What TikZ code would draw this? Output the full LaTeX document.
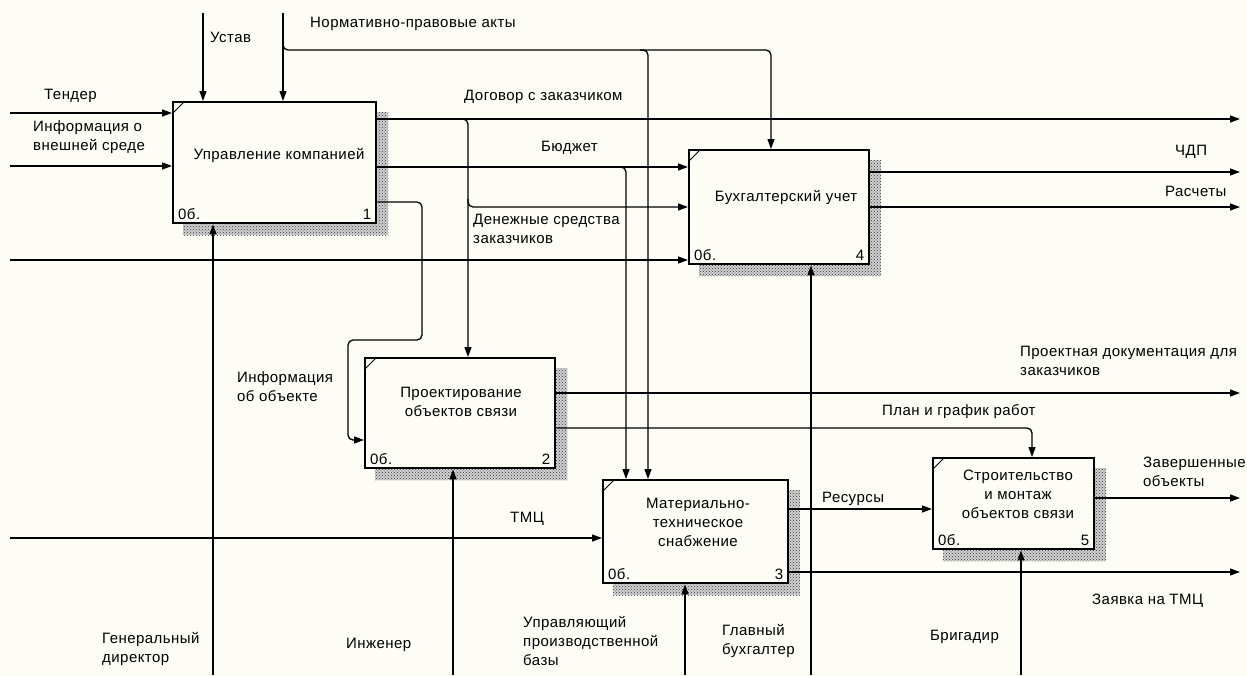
\documentclass[tikz,border=0pt]{standalone}
\usepackage{fontspec}
\setmainfont{Liberation Sans}[LetterSpace=3]
\usetikzlibrary{arrows.meta,patterns,calc}
\definecolor{bgc}{RGB}{253,252,245}
\pgfdeclarelayer{bglayer}
\pgfdeclarelayer{shadowlayer}
\pgfsetlayers{bglayer,shadowlayer,main}
\begin{document}
\begin{tikzpicture}[x=1pt,y=-1pt,
  box/.style={draw, line width=2.4pt, fill=bgc, inner sep=0pt, anchor=north west},
  txt/.style={font=\fontsize{15}{19}\selectfont, inner sep=0pt, align=center},
  lbl/.style={font=\fontsize{15}{19}\selectfont, inner sep=0pt, anchor=west, align=left},
  num/.style={font=\fontsize{15}{19}\selectfont, inner sep=0pt},
  ln/.style={line width=1.3pt},
  arr/.style={line width=1.3pt, -{Triangle[length=10pt,width=7pt]}},
  rc/.style={rounded corners=5pt},
  shd/.style={pattern=crosshatch dots, pattern color=black!80}]
\useasboundingbox (0,0) rectangle (1247,675);
\begin{pgfonlayer}{bglayer}
  \fill[bgc] (0,0) rectangle (1247,675);
\end{pgfonlayer}

% boxes
\node[box, minimum width=203pt, minimum height=121pt] (b1) at (172,101) {};
\node[box, minimum width=180pt, minimum height=114pt] (b4) at (688,149) {};
\node[box, minimum width=190pt, minimum height=110pt] (b2) at (364,357) {};
\node[box, minimum width=185pt, minimum height=103pt] (b3) at (602,479) {};
\node[box, minimum width=161pt, minimum height=91pt] (b5) at (932,457) {};

\begin{pgfonlayer}{shadowlayer}
  \foreach \b in {b1,b2,b3,b4,b5}{
    \fill[black!18] ($(\b.north west)+(11,11)$) rectangle ($(\b.south east)+(11,11)$);
    \fill[shd] ($(\b.north west)+(11,11)$) rectangle ($(\b.south east)+(11,11)$);}
\end{pgfonlayer}

\foreach \b/\n in {b1/1,b2/2,b3/3,b4/4,b5/5}{
  \draw[line width=1pt] ($(\b.north west)+(1,12)$) -- ($(\b.north west)+(12,1)$);
  \node[num, anchor=west] (\b o) at ($(\b.south west)+(6,-10)$) {0б.};
  \node[num, anchor=east] (\b n) at ($(\b.south east)+(-6,-10)$) {\n};
}

% box texts
\node[txt] (t1) at (279,155) {Управление компанией};
\node[txt] (t4) at (786,197) {Бухгалтерский учет};
\node[txt] (t2) at (461,402) {Проектирование\\объектов связи};
\node[txt] (t3) at (698,522) {Материально-\\техническое\\снабжение};
\node[txt] (t5) at (1018,494) {Строительство\\и монтаж\\объектов связи};

% coordinates
\coordinate (ustav) at (203,13);
\coordinate (norm) at (283,13);
\coordinate (normbr) at (283,38);
\coordinate (normk) at (283,50);
\coordinate (normc) at (771,50);
\coordinate (normd) at (648,50);
\coordinate (tin) at (10,113);
\coordinate (vin) at (10,166);
\coordinate (uin) at (10,260);
\coordinate (tmc) at (10,538);
\coordinate (dog) at (1240,119);
\coordinate (dogv) at (468,119);
\coordinate (bud) at (626,167);
\coordinate (chdp) at (1240,172);
\coordinate (rasch) at (1240,207);
\coordinate (den) at (468,207);
\coordinate (io1) at (422,202);
\coordinate (io2) at (348,340);
\coordinate (io3) at (348,440);
\coordinate (pdoc) at (1240,393);
\coordinate (plan) at (1032,428);
\coordinate (res) at (900,509);
\coordinate (zav) at (1240,498);
\coordinate (zayav) at (1240,572);
\coordinate (m1) at (213,675);
\coordinate (m2) at (453,675);
\coordinate (m3) at (685,675);
\coordinate (m4) at (811,675);
\coordinate (m5) at (1021,675);

% controls
\draw[arr] (ustav) -- (ustav |- b1.north);
\draw[arr] (norm) -- (norm |- b1.north);
\draw[arr, rc] (normbr) -- (normk) -- (normc) -- (normc |- b4.north);
\draw[arr, rc] ($(normd)+(-8,0)$) -- (normd) -- (normd |- b3.north);
% inputs
\draw[arr] (tin) -- (tin -| b1.west);
\draw[arr] (vin) -- (vin -| b1.west);
\draw[arr] (uin) -- (uin -| b4.west);
\draw[arr] (tmc) -- (tmc -| b3.west);
% outputs of b1
\draw[arr] (dog -| b1.east) -- (dog);
\draw[arr, rc] ($(dogv)+(-8,0)$) -- (dogv) -- (dogv |- b2.north);
\draw[arr, rc] ($(den)+(0,-8)$) -- (den) -- (den -| b4.west);
\draw[arr] (bud -| b1.east) -- (bud -| b4.west);
\draw[arr, rc] ($(bud)+(-8,0)$) -- (bud) -- (bud |- b3.north);
\draw[arr, rc] (io1 -| b1.east) -- (io1) -- (io1 |- io2) -- (io2) -- (io3) -- (io3 -| b2.west);
% outputs of b4
\draw[arr] (chdp -| b4.east) -- (chdp);
\draw[arr] (rasch -| b4.east) -- (rasch);
% outputs of b2
\draw[arr] (pdoc -| b2.east) -- (pdoc);
\draw[arr, rc] (plan -| b2.east) -- (plan) -- (plan |- b5.north);
% outputs of b3
\draw[arr] (res -| b3.east) -- (res -| b5.west);
\draw[arr] (zayav -| b3.east) -- (zayav);
% output of b5
\draw[arr] (zav -| b5.east) -- (zav);
% mechanisms
\draw[arr] (m1) -- (m1 |- b1.south);
\draw[arr] (m2) -- (m2 |- b2.south);
\draw[arr] (m3) -- (m3 |- b3.south);
\draw[arr] (m4) -- (m4 |- b4.south);
\draw[arr] (m5) -- (m5 |- b5.south);

% labels
\node[lbl] (l1) at (210,37) {Устав};
\node[lbl] (l2) at (310,24) {Нормативно-правовые акты};
\node[lbl] (l3) at (44,96) {Тендер};
\node[lbl] (l4) at (33,137.5) {Информация о\\внешней среде};
\node[lbl] (l5) at (464,97) {Договор с заказчиком};
\node[lbl] (l6) at (541,148) {Бюджет};
\node[lbl] (l7) at (473,228.5) {Денежные средства\\заказчиков};
\node[lbl] (l8) at (1175,152) {ЧДП};
\node[lbl] (l9) at (1165,191) {Расчеты};
\node[lbl] (l10) at (237,386.5) {Информация\\об объекте};
\node[lbl] (l11) at (1020,361) {Проектная документация для\\заказчиков};
\node[lbl] (l12) at (882,412) {План и график работ};
\node[lbl] (l13) at (822,499) {Ресурсы};
\node[lbl] (l14) at (510,519) {ТМЦ};
\node[lbl] (l15) at (1143,472) {Завершенные\\объекты};
\node[lbl] (l16) at (1092,601) {Заявка на ТМЦ};
\node[lbl] (l17) at (102,649) {Генеральный\\директор};
\node[lbl] (l18) at (346,645) {Инженер};
\node[lbl] (l19) at (523,640.5) {Управляющий\\производственной\\базы};
\node[lbl] (l20) at (722,641) {Главный\\бухгалтер};
\node[lbl] (l21) at (930,637) {Бригадир};
\end{tikzpicture}
\end{document}
